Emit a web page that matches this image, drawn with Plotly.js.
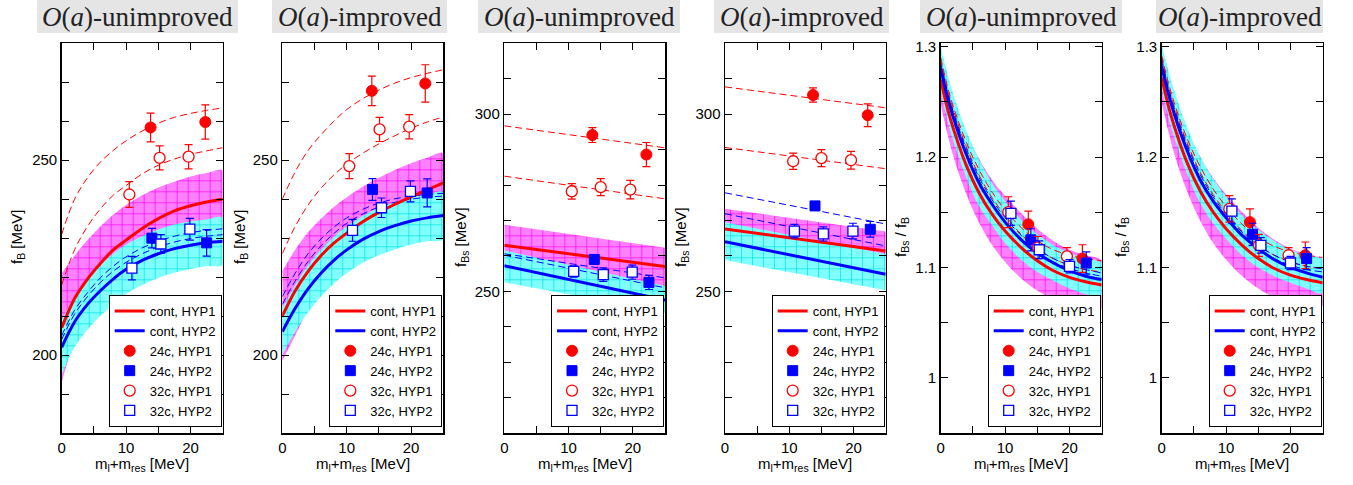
<!DOCTYPE html>
<html>
<head>
<meta charset="utf-8">
<script src="https://cdn.plot.ly/plotly-3.0.1.min.js"></script>
<style>html,body{margin:0;padding:0;background:#fff;}#chart{width:1353px;height:485px;}</style>
</head>
<body>
<div id="chart"></div>
<script>
// ---------------- data ----------------
const panelTitles = ['<i>O</i>(<i>a</i>)-unimproved', '<i>O</i>(<i>a</i>)-improved', '<i>O</i>(<i>a</i>)-unimproved', '<i>O</i>(<i>a</i>)-improved', '<i>O</i>(<i>a</i>)-unimproved', '<i>O</i>(<i>a</i>)-improved'];
const yTitles = ['f<sub>B</sub> [MeV]', 'f<sub>B</sub> [MeV]', 'f<sub>Bs</sub> [MeV]', 'f<sub>Bs</sub> [MeV]', 'f<sub>Bs</sub> / f<sub>B</sub>', 'f<sub>Bs</sub> / f<sub>B</sub>'];
const xTitle = 'm<sub>l</sub>+m<sub>res</sub> [MeV]';
const legendNames = ['cont, HYP1', 'cont, HYP2', '24c, HYP1', '24c, HYP2', '32c, HYP1', '32c, HYP2'];

const xTicks = [0, 10, 20];
const xTickText = ['0', '10', '20'];
const xMinor = [5, 15, 25];
const fbTicks = [200, 250];
const fbTickText = ['200', '250'];
const fbMinor = [190, 210, 220, 230, 240, 260, 270];
const fbsTicks = [250, 300];
const fbsTickText = ['250', '300'];
const fbsMinor = [220, 230, 240, 260, 270, 280, 290, 310];
const ratioTicks = [1.0, 1.1, 1.2, 1.3];
const ratioTickText = ['1', '1.1', '1.2', '1.3'];
const ratioMinor = [1.05, 1.15, 1.25];

// curve abscissae
const XG = [0, 2, 4, 6, 8, 10, 12.5, 15, 17.5, 20, 22.5, 25];
const XR = [0, 1, 2, 4, 6, 8, 10, 12.5, 15, 17.5, 20, 22.5, 25];
const XL = [0, 25];

// Panel 1: f_B, O(a)-unimproved
const p1Red      = [207, 214.5, 219.5, 223.5, 227, 229.5, 232.5, 235, 237, 238.3, 239.3, 240];
const p1MagHi    = [221, 225.5, 229.5, 233, 236, 238.5, 241, 243, 244.5, 245.8, 246.7, 247.3];
const p1MagLo    = [193, 203.5, 209.5, 214, 218, 220.5, 224, 227, 229.5, 230.8, 231.9, 232.7];
const p1Blue     = [202, 208.5, 213, 216.5, 219.5, 222, 224.3, 226, 227.3, 228.2, 228.8, 229.2];
const p1CyaHi    = [209, 215, 219.5, 223, 226, 228.3, 230.5, 232.2, 233.5, 234.3, 234.8, 235.2];
const p1CyaLo    = [195, 202, 206.5, 210, 213, 215.7, 218, 219.8, 221.1, 222.1, 222.8, 223.2];
const p1RedDashA = [231, 240, 245.5, 249.5, 252.5, 255, 257.5, 259.5, 261, 262, 262.8, 263.4];
const p1RedDashB = [218, 227, 233, 237.5, 241, 243.5, 246.5, 248.7, 250.3, 251.5, 252.4, 253.2];
const p1BlueDashA = [205, 211.5, 216, 219.8, 222.8, 225.2, 227.5, 229.2, 230.5, 231.4, 232, 232.4];
const p1BlueDashB = [204, 210.5, 215, 218.6, 221.5, 223.8, 226, 227.7, 229, 229.9, 230.5, 230.9];
const p1_24cH1x = [13.8, 22.3], p1_24cH1y = [258.4, 259.8], p1_24cH1e = [3.7, 4.4];
const p1_24cH2x = [14.0, 22.5], p1_24cH2y = [230.0, 228.8], p1_24cH2e = [2.5, 3.4];
const p1_32cH1x = [10.5, 15.2, 19.7], p1_32cH1y = [241.2, 250.6, 250.9], p1_32cH1e = [3.3, 3.1, 3.1];
const p1_32cH2x = [10.9, 15.4, 19.9], p1_32cH2y = [222.3, 228.5, 232.3], p1_32cH2e = [3.0, 2.4, 2.8];

// Panel 2: f_B, O(a)-improved
const p2Red      = [210, 216.5, 221.5, 225.5, 228.7, 231.3, 234.2, 236.6, 238.7, 240.6, 242.4, 244.2];
const p2MagHi    = [221.5, 227, 231.5, 235, 238, 240.5, 243.2, 245.5, 247.5, 249.2, 250.6, 251.8];
const p2MagLo    = [198.5, 205, 211.5, 216, 219, 221.5, 224.8, 227.5, 230.1, 232.4, 234.4, 236.6];
const p2Blue     = [206, 212, 217, 221, 224.3, 227, 229.7, 231.7, 233.2, 234.4, 235.2, 235.8];
const p2CyaHi    = [212, 218, 223, 227, 230.3, 233, 235.7, 237.8, 239.3, 240.4, 241.2, 241.8];
const p2CyaLo    = [200, 206, 211, 215, 218.3, 221, 223.7, 225.6, 227.1, 228.4, 229.2, 229.8];
const p2RedDashA = [240, 247, 252.5, 256.5, 260, 263, 265.8, 268, 269.8, 271.2, 272.3, 273.2];
const p2RedDashB = [226, 233, 238.5, 242.8, 246.2, 249, 251.8, 254.2, 256.3, 258.2, 259.8, 261.1];
const p2BlueDashA = [215, 221, 226, 229.8, 232.8, 235.2, 237.4, 239, 240.1, 240.8, 241.2, 241.5];
const p2BlueDashB = [213, 219, 224, 228, 231.2, 233.8, 236.2, 238, 239.2, 240, 240.5, 240.8];
const p2_24cH1x = [13.9, 22.2], p2_24cH1y = [267.8, 269.7], p2_24cH1e = [3.8, 4.8];
const p2_24cH2x = [14.0, 22.5], p2_24cH2y = [242.5, 241.6], p2_24cH2e = [2.8, 3.6];
const p2_32cH1x = [10.4, 15.1, 19.7], p2_32cH1y = [248.5, 257.9, 258.6], p2_32cH1e = [3.2, 3.1, 3.1];
const p2_32cH2x = [10.9, 15.4, 19.9], p2_32cH2y = [232.0, 237.8, 242.0], p2_32cH2e = [2.8, 2.5, 2.7];

// Panel 3: f_Bs, O(a)-unimproved
const p3Red      = [263, 257];
const p3MagHi    = [268.8, 262.3];
const p3MagLo    = [257.2, 251.2];
const p3Blue     = [257.2, 247.5];
const p3CyaHi    = [261.5, 251.5];
const p3CyaLo    = [252.5, 244];
const p3RedDashA = [296.7, 290.5];
const p3RedDashB = [282.5, 276.1];
const p3BlueDashA = [260.6, 253.8];
const p3BlueDashB = [260.2, 251.0];
const p3_24cH1x = [13.7, 22.1], p3_24cH1y = [294.1, 288.6], p3_24cH1e = [2.1, 3.4];
const p3_24cH2x = [14.0, 22.5], p3_24cH2y = [259.0, 252.5], p3_24cH2e = [1.2, 2.0];
const p3_32cH1x = [10.5, 15.0, 19.6], p3_32cH1y = [278.2, 279.4, 278.7], p3_32cH1e = [2.2, 2.4, 2.6];
const p3_32cH2x = [10.8, 15.4, 19.9], p3_32cH2y = [255.6, 254.7, 255.4], p3_32cH2e = [1.6, 1.9, 2.0];

// Panel 4: f_Bs, O(a)-improved
const p4Red      = [267.6, 261.4];
const p4MagHi    = [273.3, 266.9];
const p4MagLo    = [261.9, 255.9];
const p4Blue     = [264, 254.8];
const p4CyaHi    = [269.5, 260.5];
const p4CyaLo    = [258.8, 250.3];
const p4RedDashA = [307.7, 301.8];
const p4RedDashB = [290.6, 284.6];
const p4BlueDashA = [277.8, 269];
const p4BlueDashB = [271.9, 262.8];
const p4_24cH1x = [13.7, 22.2], p4_24cH1y = [305.4, 299.7], p4_24cH1e = [2.0, 3.2];
const p4_24cH2x = [14.0, 22.6], p4_24cH2y = [274.1, 267.5], p4_24cH2e = [1.2, 2.2];
const p4_32cH1x = [10.6, 15.0, 19.6], p4_32cH1y = [286.7, 287.6, 287.0], p4_32cH1e = [2.3, 2.4, 2.5];
const p4_32cH2x = [10.8, 15.3, 19.9], p4_32cH2y = [267.0, 266.2, 267.0], p4_32cH2e = [1.9, 2.0, 2.2];

// Panel 5: f_Bs/f_B, O(a)-unimproved
const p5Red      = [1.270, 1.245, 1.225, 1.192, 1.167, 1.148, 1.133, 1.118, 1.106, 1.097, 1.091, 1.087, 1.084];
const p5MagHi    = [1.295, 1.270, 1.253, 1.222, 1.198, 1.179, 1.165, 1.149, 1.135, 1.124, 1.116, 1.111, 1.106];
const p5MagLo    = [1.247, 1.222, 1.200, 1.166, 1.140, 1.120, 1.105, 1.090, 1.079, 1.071, 1.066, 1.063, 1.062];
const p5Blue     = [1.280, 1.255, 1.235, 1.202, 1.176, 1.157, 1.141, 1.125, 1.113, 1.104, 1.097, 1.092, 1.089];
const p5CyaHi    = [1.300, 1.276, 1.256, 1.223, 1.197, 1.176, 1.160, 1.143, 1.130, 1.120, 1.113, 1.108, 1.104];
const p5CyaLo    = [1.260, 1.234, 1.214, 1.181, 1.155, 1.138, 1.122, 1.107, 1.096, 1.088, 1.081, 1.076, 1.074];
const p5RedDashA = [1.290, 1.265, 1.245, 1.213, 1.188, 1.168, 1.152, 1.136, 1.124, 1.116, 1.111, 1.108, 1.106];
const p5RedDashB = [1.288, 1.262, 1.242, 1.209, 1.183, 1.163, 1.147, 1.130, 1.117, 1.108, 1.102, 1.098, 1.096];
const p5BlueDashA = [1.285, 1.260, 1.240, 1.207, 1.181, 1.161, 1.145, 1.129, 1.117, 1.108, 1.102, 1.098, 1.095];
const p5BlueDashB = [1.283, 1.258, 1.238, 1.204, 1.178, 1.158, 1.142, 1.126, 1.114, 1.105, 1.099, 1.095, 1.092];
const p5_24cH1x = [13.6, 22.0], p5_24cH1y = [1.139, 1.108], p5_24cH1e = [0.012, 0.0125];
const p5_24cH2x = [14.0, 22.6], p5_24cH2y = [1.125, 1.104], p5_24cH2e = [0.010, 0.010];
const p5_32cH1x = [10.5, 15.1, 19.6], p5_32cH1y = [1.150, 1.118, 1.110], p5_32cH1e = [0.014, 0.010, 0.008];
const p5_32cH2x = [10.9, 15.3, 20.0], p5_32cH2y = [1.149, 1.116, 1.101], p5_32cH2e = [0.011, 0.008, 0.006];

// Panel 6: f_Bs/f_B, O(a)-improved
const p6Red      = [1.272, 1.247, 1.227, 1.194, 1.169, 1.150, 1.135, 1.120, 1.108, 1.099, 1.093, 1.089, 1.086];
const p6MagHi    = [1.297, 1.272, 1.255, 1.224, 1.200, 1.181, 1.166, 1.150, 1.136, 1.125, 1.117, 1.112, 1.107];
const p6MagLo    = [1.249, 1.224, 1.202, 1.168, 1.142, 1.122, 1.107, 1.092, 1.081, 1.073, 1.069, 1.066, 1.065];
const p6Blue     = [1.282, 1.258, 1.238, 1.205, 1.179, 1.160, 1.145, 1.129, 1.117, 1.107, 1.100, 1.095, 1.091];
const p6CyaHi    = [1.302, 1.279, 1.259, 1.226, 1.200, 1.180, 1.164, 1.147, 1.134, 1.124, 1.116, 1.111, 1.107];
const p6CyaLo    = [1.262, 1.237, 1.217, 1.184, 1.158, 1.140, 1.126, 1.111, 1.100, 1.092, 1.086, 1.081, 1.077];
const p6RedDashA = [1.292, 1.268, 1.248, 1.216, 1.191, 1.171, 1.155, 1.139, 1.127, 1.119, 1.114, 1.111, 1.109];
const p6RedDashB = [1.290, 1.265, 1.245, 1.212, 1.186, 1.166, 1.150, 1.133, 1.120, 1.111, 1.105, 1.101, 1.099];
const p6BlueDashA = [1.288, 1.263, 1.243, 1.210, 1.184, 1.164, 1.148, 1.132, 1.120, 1.111, 1.105, 1.101, 1.099];
const p6BlueDashB = [1.285, 1.260, 1.240, 1.207, 1.181, 1.161, 1.145, 1.129, 1.117, 1.108, 1.102, 1.098, 1.096];
const p6_24cH1x = [13.7, 22.3], p6_24cH1y = [1.141, 1.111], p6_24cH1e = [0.012, 0.012];
const p6_24cH2x = [14.1, 22.5], p6_24cH2y = [1.130, 1.108], p6_24cH2e = [0.010, 0.010];
const p6_32cH1x = [10.5, 15.1, 19.7], p6_32cH1y = [1.153, 1.120, 1.111], p6_32cH1e = [0.012, 0.010, 0.007];
const p6_32cH2x = [10.9, 15.4, 20.0], p6_32cH2y = [1.151, 1.120, 1.104], p6_32cH2e = [0.011, 0.007, 0.006];

// ---------------- assembly ----------------
const panels = [
  {xc: XG, red: p1Red, magHi: p1MagHi, magLo: p1MagLo, blue: p1Blue, cyaHi: p1CyaHi, cyaLo: p1CyaLo, redDash: [p1RedDashA, p1RedDashB], blueDash: [p1BlueDashA, p1BlueDashB],
   pts: [[p1_24cH1x, p1_24cH1y, p1_24cH1e], [p1_24cH2x, p1_24cH2y, p1_24cH2e], [p1_32cH1x, p1_32cH1y, p1_32cH1e], [p1_32cH2x, p1_32cH2y, p1_32cH2e]],
   yr: [180, 280], tv: fbTicks, tt: fbTickText, mv: fbMinor},
  {xc: XG, red: p2Red, magHi: p2MagHi, magLo: p2MagLo, blue: p2Blue, cyaHi: p2CyaHi, cyaLo: p2CyaLo, redDash: [p2RedDashA, p2RedDashB], blueDash: [p2BlueDashA, p2BlueDashB],
   pts: [[p2_24cH1x, p2_24cH1y, p2_24cH1e], [p2_24cH2x, p2_24cH2y, p2_24cH2e], [p2_32cH1x, p2_32cH1y, p2_32cH1e], [p2_32cH2x, p2_32cH2y, p2_32cH2e]],
   yr: [180, 280], tv: fbTicks, tt: fbTickText, mv: fbMinor},
  {xc: XL, red: p3Red, magHi: p3MagHi, magLo: p3MagLo, blue: p3Blue, cyaHi: p3CyaHi, cyaLo: p3CyaLo, redDash: [p3RedDashA, p3RedDashB], blueDash: [p3BlueDashA, p3BlueDashB],
   pts: [[p3_24cH1x, p3_24cH1y, p3_24cH1e], [p3_24cH2x, p3_24cH2y, p3_24cH2e], [p3_32cH1x, p3_32cH1y, p3_32cH1e], [p3_32cH2x, p3_32cH2y, p3_32cH2e]],
   yr: [210, 320], tv: fbsTicks, tt: fbsTickText, mv: fbsMinor},
  {xc: XL, red: p4Red, magHi: p4MagHi, magLo: p4MagLo, blue: p4Blue, cyaHi: p4CyaHi, cyaLo: p4CyaLo, redDash: [p4RedDashA, p4RedDashB], blueDash: [p4BlueDashA, p4BlueDashB],
   pts: [[p4_24cH1x, p4_24cH1y, p4_24cH1e], [p4_24cH2x, p4_24cH2y, p4_24cH2e], [p4_32cH1x, p4_32cH1y, p4_32cH1e], [p4_32cH2x, p4_32cH2y, p4_32cH2e]],
   yr: [210, 320], tv: fbsTicks, tt: fbsTickText, mv: fbsMinor},
  {xc: XR, red: p5Red, magHi: p5MagHi, magLo: p5MagLo, blue: p5Blue, cyaHi: p5CyaHi, cyaLo: p5CyaLo, redDash: [p5RedDashA, p5RedDashB], blueDash: [p5BlueDashA, p5BlueDashB],
   pts: [[p5_24cH1x, p5_24cH1y, p5_24cH1e], [p5_24cH2x, p5_24cH2y, p5_24cH2e], [p5_32cH1x, p5_32cH1y, p5_32cH1e], [p5_32cH2x, p5_32cH2y, p5_32cH2e]],
   yr: [0.95, 1.303], tv: ratioTicks, tt: ratioTickText, mv: ratioMinor},
  {xc: XR, red: p6Red, magHi: p6MagHi, magLo: p6MagLo, blue: p6Blue, cyaHi: p6CyaHi, cyaLo: p6CyaLo, redDash: [p6RedDashA, p6RedDashB], blueDash: [p6BlueDashA, p6BlueDashB],
   pts: [[p6_24cH1x, p6_24cH1y, p6_24cH1e], [p6_24cH2x, p6_24cH2y, p6_24cH2e], [p6_32cH1x, p6_32cH1y, p6_32cH1e], [p6_32cH2x, p6_32cH2y, p6_32cH2e]],
   yr: [0.95, 1.303], tv: ratioTicks, tt: ratioTickText, mv: ratioMinor}
];

const W = 1353, H = 485;
const plotPx = [[61.7, 222.7], [282.3, 443.3], [504.3, 665], [725, 885.7], [940.7, 1101.7], [1161.7, 1322.7]];
const boxPx = [[37, 238], [272, 447], [478, 680], [714, 889], [920, 1122], [1156, 1323]];
const yTitlePx = [17, 240, 461, 681, 901, 1121];
const plotTop = 43.3, plotBot = 433;
const RED = '#ff0000', BLUE = '#0000ff';
const FONT = 'Liberation Sans, Arial, Helvetica, sans-serif';

const traces = [];
const layout = {
  width: W, height: H,
  margin: {l: 0, r: 0, t: 0, b: 0},
  paper_bgcolor: '#ffffff', plot_bgcolor: 'rgba(0,0,0,0)',
  font: {family: FONT, size: 15, color: '#000'},
  showlegend: true,
  shapes: [], annotations: []
};

panels.forEach((p, i) => {
  const n = i + 1;
  const xa = 'x' + (n === 1 ? '' : n), ya = 'y' + (n === 1 ? '' : n);
  const lg = 'legend' + (n === 1 ? '' : n);
  const sm = p.xc.length > 2 ? 'spline' : 'linear';
  const band = (hi, lo, fg, bg) => ({
    type: 'scatter', mode: 'lines', xaxis: xa, yaxis: ya,
    x: p.xc.concat(p.xc.slice().reverse()), y: hi.concat(lo.slice().reverse()),
    fill: 'toself', fillcolor: bg,
    fillpattern: {shape: '+', fgcolor: fg, bgcolor: bg, size: 11, solidity: 0.12},
    line: {width: 0, shape: sm}, showlegend: false, hoverinfo: 'skip', legend: lg
  });
  traces.push(band(p.magHi, p.magLo, '#ff00ff', '#ff80ff'));
  traces.push(band(p.cyaHi, p.cyaLo, '#00e0e0', '#80ffff'));
  const dashed = (y, c) => ({type: 'scatter', mode: 'lines', xaxis: xa, yaxis: ya, x: p.xc, y: y,
    line: {color: c, width: 1, dash: '7px,4px', shape: sm}, showlegend: false, hoverinfo: 'skip', legend: lg});
  p.redDash.forEach(y => traces.push(dashed(y, RED)));
  p.blueDash.forEach(y => traces.push(dashed(y, BLUE)));
  traces.push({type: 'scatter', mode: 'lines', xaxis: xa, yaxis: ya, x: p.xc, y: p.red, name: legendNames[0],
    line: {color: RED, width: 3, shape: sm}, legend: lg});
  traces.push({type: 'scatter', mode: 'lines', xaxis: xa, yaxis: ya, x: p.xc, y: p.blue, name: legendNames[1],
    line: {color: BLUE, width: 3, shape: sm}, legend: lg});
  const styles = [
    {symbol: 'circle', color: RED, line: {color: RED, width: 1}, size: 11},
    {symbol: 'square', color: BLUE, line: {color: BLUE, width: 1}, size: 10},
    {symbol: 'circle', color: '#ffffff', line: {color: RED, width: 1.3}, size: 11},
    {symbol: 'square', color: '#ffffff', line: {color: BLUE, width: 1.3}, size: 10}
  ];
  const ecol = [RED, BLUE, RED, BLUE];
  p.pts.forEach((d, k) => {
    traces.push({type: 'scatter', mode: 'markers', xaxis: xa, yaxis: ya, x: d[0], y: d[1], name: legendNames[k + 2],
      marker: styles[k], error_y: {type: 'data', array: d[2], visible: true, color: ecol[k], thickness: 1.2, width: 4},
      cliponaxis: false, legend: lg});
  });

  const dom = [plotPx[i][0] / W, plotPx[i][1] / W];
  const common = {
    ticks: 'inside', ticklen: 7, tickwidth: 1, tickcolor: '#000', mirror: 'allticks', showline: true,
    linecolor: '#000', linewidth: 1.5, showgrid: false, zeroline: false, tickfont: {size: 15, family: FONT},
    tickmode: 'array'
  };
  layout['xaxis' + (n === 1 ? '' : n)] = Object.assign({}, common, {
    domain: dom, anchor: ya, range: [0, 25], tickvals: xTicks, ticktext: xTickText,
    minor: {tickmode: 'array', tickvals: xMinor, ticks: 'inside', ticklen: 7, tickwidth: 1, tickcolor: '#000', showgrid: false}
  });
  layout['yaxis' + (n === 1 ? '' : n)] = Object.assign({}, common, {
    domain: [1 - plotBot / H, 1 - plotTop / H], anchor: xa, range: p.yr, tickvals: p.tv, ticktext: p.tt,
    minor: {tickmode: 'array', tickvals: p.mv, ticks: 'inside', ticklen: 7, tickwidth: 1, tickcolor: '#000', showgrid: false}
  });
  layout[lg] = {
    x: (plotPx[i][1] - 1) / W, xanchor: 'right', y: (H - 427) / H, yanchor: 'bottom',
    bgcolor: '#ffffff', bordercolor: '#000', borderwidth: 1, font: {size: 13, family: FONT},
    tracegroupgap: 0, traceorder: 'normal'
  };
  layout.shapes.push({type: 'rect', xref: 'paper', yref: 'paper', x0: boxPx[i][0] / W, x1: boxPx[i][1] / W,
    y0: 1 - 33 / H, y1: 1, fillcolor: '#e5e5e5', line: {width: 0}, layer: 'below'});
  layout.annotations.push({xref: 'paper', yref: 'paper', x: (boxPx[i][0] + boxPx[i][1]) / 2 / W, y: 1 - 17 / H,
    xanchor: 'center', yanchor: 'middle', showarrow: false, text: panelTitles[i],
    font: {family: 'Liberation Serif, Times New Roman, serif', size: 27, color: '#222'}});
  layout.annotations.push({xref: 'paper', yref: 'paper', x: yTitlePx[i] / W, y: 1 - 237 / H,
    xanchor: 'center', yanchor: 'middle', showarrow: false, textangle: -90, text: yTitles[i],
    font: {family: FONT, size: 15, color: '#000'}});
  layout.annotations.push({xref: 'paper', yref: 'paper', x: (plotPx[i][0] + plotPx[i][1]) / 2 / W, y: 1 - 464 / H,
    xanchor: 'center', yanchor: 'middle', showarrow: false, text: xTitle,
    font: {family: FONT, size: 15, color: '#000'}});
});

Plotly.newPlot('chart', traces, layout, {displayModeBar: false, staticPlot: true});
</script>
</body>
</html>
